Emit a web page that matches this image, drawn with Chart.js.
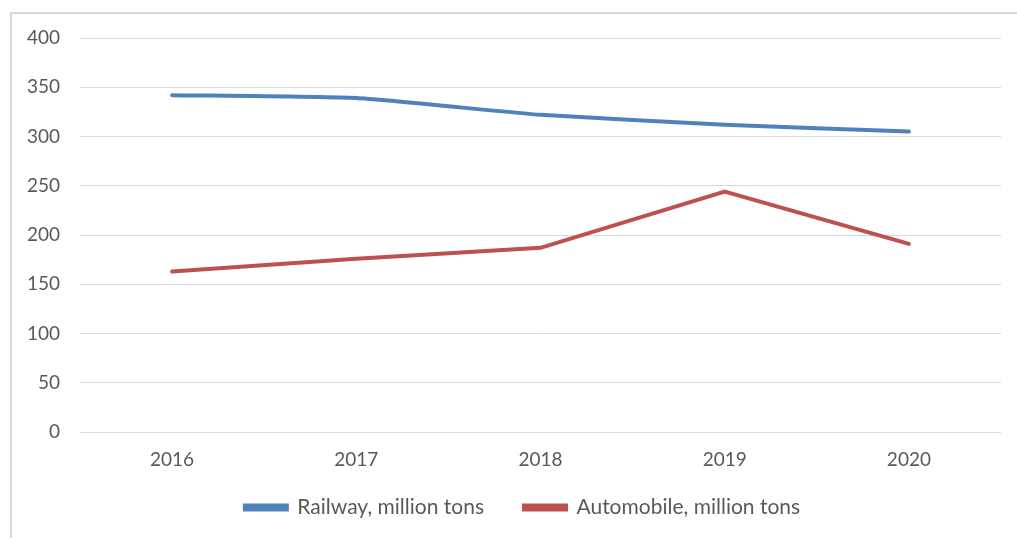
<!DOCTYPE html>
<html>
<head>
<meta charset="utf-8">
<script src="https://cdn.jsdelivr.net/npm/chart.js@4"></script>
<style>
  html, body { margin: 0; padding: 0; background: #fff; }
  #wrap { position: relative; width: 1017px; height: 538px; }
  #frame { position: absolute; left: 10px; top: 12px; right: 0; bottom: 0;
           border-top: 2px solid #d9d9d9; border-left: 2px solid #d9d9d9; }
  canvas { position: absolute; left: 0; top: 0; }
</style>
</head>
<body>
<div id="wrap">
  <div id="frame"></div>
  <canvas id="chart" width="1017" height="538"></canvas>
</div>
<script>
const years = ["2016", "2017", "2018", "2019", "2020"];
const railway = [342, 339, 322, 312, 305];
const automobile = [163, 176, 187, 244, 191];
const yTicks = [0, 50, 100, 150, 200, 250, 300, 350, 400];

const textColor = "#595959";
const gridColor = "#d9d9d9";
const fontFamily = "Lato, 'Open Sans', sans-serif";

// legend sits a bit right of centre and overlaps the x label band
const legendShift = {
  id: "legendShift",
  afterLayout(chart) {
    const lg = chart.legend;
    lg.left += 44;
    lg.top = 457;
    lg.height = 80;
    lg.bottom = lg.top + lg.height;
  }
};

const config = {
  type: "line",
  data: {
    labels: years,
    datasets: [
      {
        label: "Railway, million tons",
        data: railway,
        borderColor: "#4f81bd",
        backgroundColor: "#4f81bd",
        borderWidth: 4,
        pointRadius: 0,
        tension: 0.15,
        borderCapStyle: "round"
      },
      {
        label: "Automobile, million tons",
        data: automobile,
        borderColor: "#c0504d",
        backgroundColor: "#c0504d",
        borderWidth: 4,
        pointRadius: 0,
        tension: 0,
        borderCapStyle: "round"
      }
    ]
  },
  options: {
    responsive: false,
    animation: false,
    layout: { padding: { top: 38, right: 16, left: 0, bottom: 0 } },
    plugins: {
      tooltip: { enabled: false },
      legend: {
        position: "bottom",
        maxHeight: 49,
        labels: {
          color: textColor,
          font: { family: fontFamily, size: 21 },
          boxWidth: 42,
          boxHeight: 4,
          padding: 40
        }
      }
    },
    scales: {
      x: {
        offset: true,
        grid: { display: false, drawTicks: false },
        border: { display: false },
        ticks: { color: textColor, font: { family: fontFamily, size: 19 }, padding: 16 },
        afterFit: function (scale) { scale.height = 57; }
      },
      y: {
        min: 0,
        max: 400,
        afterBuildTicks: function (scale) {
          scale.ticks = yTicks.map(v => ({ value: v }));
        },
        grid: { color: gridColor, lineWidth: 1, drawTicks: false },
        border: { display: false },
        ticks: { color: textColor, font: { family: fontFamily, size: 19 }, padding: 20 },
        afterFit: function (scale) { scale.width = 80; }
      }
    }
  },
  plugins: [legendShift]
};

let myChart = new Chart(document.getElementById("chart"), config);
</script>
</body>
</html>
